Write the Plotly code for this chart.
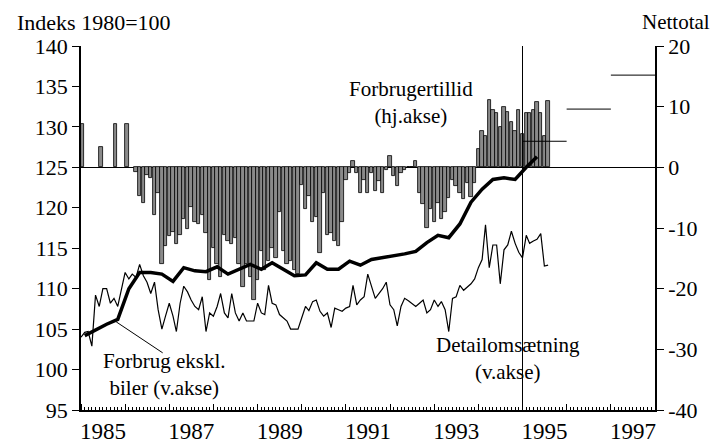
import pandas as pd
import plotly.graph_objects as go

# ---------------- data ----------------
# Detailomsætning, monthly, index 1980=100 (left axis)
detail_start = "1985-01-01"
detail = [
    104.0, 104.6, 104.7, 102.9, 109.2, 107.8, 110.0, 110.0, 108.2, 108.8,
    107.8, 109.8, 112.0, 111.2, 111.8, 111.4, 113.0, 111.6, 110.8, 109.4,
    110.8, 107.4, 105.0, 106.6, 108.2, 106.6, 104.7, 108.2, 110.3, 109.6,
    108.6, 107.8, 107.4, 109.0, 104.7, 107.0, 106.6, 107.8, 109.4, 107.0,
    106.4, 109.4, 107.0, 106.0, 107.0, 106.0, 106.0, 106.0, 108.2, 107.0,
    106.8, 110.4, 108.2, 108.0, 106.8, 106.4, 106.0, 105.0, 105.0, 105.0,
    106.4, 107.8, 107.3, 108.4, 108.6, 107.2, 106.6, 107.0, 105.2, 107.6,
    107.4, 107.2, 107.6, 107.8, 110.4, 108.0, 108.6, 109.0, 111.8, 110.2,
    108.8, 109.4, 110.0, 110.8, 108.0, 107.4, 105.4, 107.8, 108.8, 108.5,
    108.2, 107.8, 108.2, 108.6, 107.0, 107.4, 108.6, 107.8, 108.4, 107.4,
    104.7, 108.8, 109.0, 110.4, 109.8, 110.2, 110.6, 111.2, 112.6, 113.6,
    117.9, 112.6, 115.4, 115.4, 110.6, 114.8, 115.4, 117.1, 115.6, 114.5,
    113.8, 116.6, 115.6, 115.9, 116.1, 116.8, 112.8, 112.9,
]

# Forbrug ekskl. biler, quarterly (mid-quarter), index 1980=100 (left axis)
forbrug_start = "1985-02-01"
forbrug = [
    104.2, 104.9, 105.6, 106.2, 110.0, 112.0, 112.0, 111.8, 110.9, 112.6,
    112.2, 112.1, 112.7, 111.8, 112.4, 113.0, 112.4, 113.2, 112.4, 111.6,
    111.7, 113.2, 112.4, 112.4, 113.4, 112.9, 113.6, 113.8, 114.0, 114.3,
    114.6, 115.7, 116.6, 116.3, 118.0, 120.7, 122.3, 123.5, 123.7, 123.5,
    125.0, 126.3,
]

# Forbrugertillid, nettotal (right axis): early irregular surveys, then monthly
tillid_early_dates = ["1985-01-15", "1985-06-15", "1985-10-15", "1986-01-15"]
tillid_early = [7.2, 3.4, 7.2, 7.2]
tillid_start = "1986-04-01"
tillid = [
    -0.7, -4.7, -5.8, -1.2, -1.8, -7.9, -4.2, -15.9, -13.0, -11.4,
    -10.6, -12.7, -11.1, -8.5, -10.1, -6.5, -9.0, -9.3, -7.9, -10.9,
    -18.6, -13.3, -15.9, -18.1, -11.1, -12.2, -12.7, -11.7, -15.9, -19.8,
    -15.9, -18.1, -21.8, -18.6, -13.8, -17.0, -15.4, -13.3, -14.9, -7.4,
    -13.8, -15.9, -15.4, -17.0, -17.5, -2.9, -6.9, -4.7, -9.0, -8.2,
    -14.1, -4.2, -11.1, -10.9, -12.2, -13.0, -9.0, -2.1, -1.0, 1.0,
    -1.0, -4.2, -2.1, -4.2, -1.0, -3.9, -2.3, -4.2, -0.5, 1.8,
    -1.4, -3.0, -1.0, -0.5, 0.0, 0.0, 1.0, -4.2, -6.1, -10.0,
    -6.9, -9.0, -5.8, -8.5, -7.4, -5.0, -2.1, -3.0, -4.2, -5.3,
    -2.5, -4.9, -2.5, 3.1, 6.0, 5.2, 11.1, 9.5, 9.0, 6.6,
    10.0, 9.2, 7.5, 6.0, 9.5, 5.5, 9.0, 9.0, 9.5, 10.8,
    9.0, 5.2, 10.9,
]

# Annual horizontal segments at the right (right axis)
seg_start = ["1995-01-01", "1996-01-01", "1997-01-01"]
seg_end = ["1996-01-01", "1997-01-01", "1998-01-01"]
seg_value = [4.3, 9.6, 15.2]

marker_date = "1995-01-01"

left_ticks = [95, 100, 105, 110, 115, 120, 125, 130, 135, 140]
right_ticks = [-40, -30, -20, -10, 0, 10, 20]
right_ticktext = ["-40", "-30", "-20", "-10", "0", "10", "20"]

# ---------------- figure ----------------
detail_x = pd.date_range(detail_start, periods=len(detail), freq="MS")
forbrug_x = pd.date_range(forbrug_start, periods=len(forbrug), freq="3MS")
tillid_x = pd.date_range(tillid_start, periods=len(tillid), freq="MS")

bar_w = 28 * 24 * 3600 * 1000
BAR_FILL = "#8a8a8a"

fig = go.Figure()
fig.add_trace(go.Bar(x=pd.to_datetime(tillid_early_dates), y=tillid_early, yaxis="y",
                     width=[bar_w] * len(tillid_early), marker=dict(color=BAR_FILL,
                     line=dict(color="black", width=0.8))))
fig.add_trace(go.Bar(x=tillid_x, y=tillid, yaxis="y", width=[bar_w] * len(tillid),
                     marker=dict(color=BAR_FILL, line=dict(color="black", width=0.8))))

sx, sy = [], []
for a, b, v in zip(seg_start, seg_end, seg_value):
    sx += [a, b, None]
    sy += [v, v, None]
fig.add_trace(go.Scatter(x=sx, y=sy, mode="lines", yaxis="y",
                         line=dict(color="black", width=1)))

fig.add_trace(go.Scatter(x=detail_x, y=detail, mode="lines", yaxis="y2",
                         line=dict(color="black", width=1.2)))
fig.add_trace(go.Scatter(x=forbrug_x, y=forbrug, mode="lines", yaxis="y2",
                         line=dict(color="black", width=3.5)))

FONT = "Liberation Serif"
fig.update_layout(
    width=720, height=448,
    margin=dict(l=73, r=73, t=38, b=36),
    showlegend=False,
    plot_bgcolor="white", paper_bgcolor="white",
    font=dict(family=FONT, size=22, color="black"),
    bargap=0,
    xaxis=dict(type="date", range=["1985-01-01", "1998-01-01"],
               showline=True, linecolor="black", linewidth=1.5,
               ticks="inside", ticklen=6, tickcolor="black",
               tick0="1985-01-01", dtick="M12", tickformat="%Y",
               ticklabelmode="period", ticklabelstep=2,
               minor=dict(ticks="inside", ticklen=3, dtick="M1",
                          tick0="1985-01-01", tickcolor="black"),
               showgrid=False, zeroline=False,
               tickfont=dict(family=FONT, size=23)),
    yaxis=dict(side="right", range=[-40, 20], tickmode="array",
               tickvals=right_ticks, ticktext=right_ticktext,
               ticks="outside", ticklen=7, tickcolor="black",
               showline=True, linecolor="black", linewidth=1.5,
               zeroline=True, zerolinecolor="black", zerolinewidth=1,
               showgrid=False, tickfont=dict(family=FONT, size=22)),
    yaxis2=dict(side="left", overlaying="y", range=[95, 140], tickmode="array",
                tickvals=left_ticks, ticks="outside", ticklen=7, tickcolor="black",
                showline=True, linecolor="black", linewidth=1.5,
                zeroline=False, showgrid=False,
                tickfont=dict(family=FONT, size=22)),
)

fig.add_shape(type="line", xref="x", yref="paper", x0=marker_date, x1=marker_date,
              y0=0, y1=1, line=dict(color="black", width=1))

def txt(s, x, y, xanchor="center", size=21):
    fig.add_annotation(text=s, xref="paper", yref="paper", x=x, y=y,
                       xanchor=xanchor, yanchor="middle", showarrow=False,
                       align="center",
                       font=dict(family=FONT, size=size, color="black"))

txt("Indeks 1980=100", -0.115, 1.065, "left", 22)
txt("Nettotal", 1.1, 1.065, "right", 21)
txt("Forbrugertillid<br>(hj.akse)", 0.575, 0.845)
txt("Forbrug ekskl.<br>biler (v.akse)", 0.146, 0.097)
txt("Detailomsætning<br>(v.akse)", 0.744, 0.142)

# pointer from label to the consumption line
fig.add_annotation(x="1985-10-19", y=105.9, xref="x", yref="y2", text="",
                   showarrow=True, arrowhead=0, arrowwidth=1, arrowcolor="black",
                   ax=48, ay=32)

fig.write_html("out.html")
